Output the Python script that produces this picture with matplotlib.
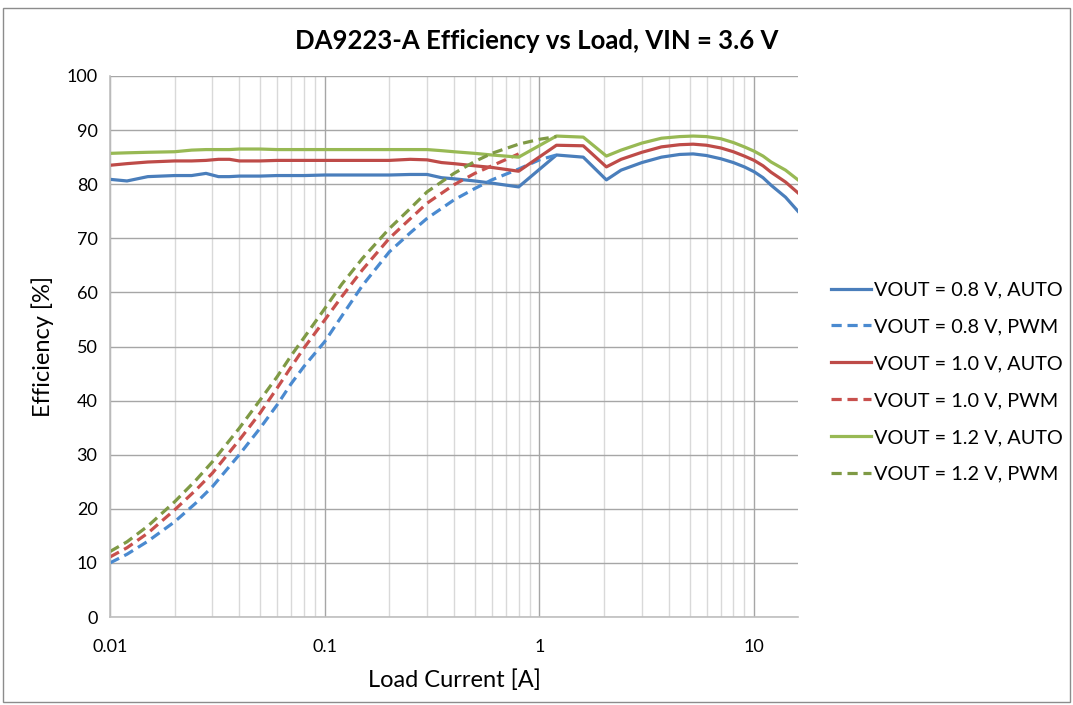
import matplotlib
matplotlib.use("Agg")
import matplotlib.pyplot as plt
from matplotlib.patches import Rectangle

plt.rcParams['font.family'] = ['Lato', 'DejaVu Sans']

# Load current [A] for the AUTO curves
i_auto = [0.01, 0.012, 0.015, 0.02, 0.024, 0.028, 0.032, 0.036, 0.04, 0.05, 0.06,
          0.08, 0.1, 0.15, 0.2, 0.25, 0.3, 0.35, 0.4, 0.5, 0.6, 0.8, 1.2, 1.6,
          2.05, 2.4, 3.0, 3.7, 4.5, 5.2, 6.0, 7.0, 8.0, 9.0, 10, 11, 12, 14, 16]

eff_08_auto = [80.9, 80.6, 81.4, 81.6, 81.6, 82.0, 81.4, 81.4, 81.5, 81.5, 81.6,
               81.6, 81.7, 81.7, 81.7, 81.8, 81.8, 81.2, 81.0, 80.6, 80.2, 79.5, 85.4, 85.0,
               80.8, 82.6, 84.0, 85.0, 85.5, 85.6, 85.3, 84.7, 84.0, 83.2, 82.3, 81.2, 79.8, 77.6, 75.0]
eff_10_auto = [83.5, 83.8, 84.1, 84.3, 84.3, 84.4, 84.6, 84.6, 84.3, 84.3, 84.4,
               84.4, 84.4, 84.4, 84.4, 84.6, 84.5, 84.0, 83.8, 83.4, 83.1, 82.4, 87.2, 87.1,
               83.2, 84.6, 85.9, 86.9, 87.3, 87.4, 87.2, 86.7, 86.0, 85.2, 84.4, 83.4, 82.2, 80.4, 78.4]
eff_12_auto = [85.7, 85.8, 85.9, 86.0, 86.3, 86.4, 86.4, 86.4, 86.5, 86.5, 86.4,
               86.4, 86.4, 86.4, 86.4, 86.4, 86.4, 86.2, 86.0, 85.7, 85.4, 85.0, 88.9, 88.7,
               85.2, 86.3, 87.6, 88.5, 88.8, 88.9, 88.8, 88.4, 87.7, 86.9, 86.1, 85.2, 84.1, 82.6, 80.8]

# Load current [A] for the PWM curves
i_pwm = [0.01, 0.012, 0.015, 0.02, 0.025, 0.03, 0.04, 0.05, 0.06, 0.07, 0.08,
         0.1, 0.12, 0.15, 0.2, 0.25, 0.3, 0.4, 0.5, 0.6, 0.8, 1.0, 1.2]

eff_08_pwm = [10.0, 11.6, 14.0, 17.6, 21.0, 24.1, 30.0, 34.9, 39.2, 43.2, 46.3,
              50.9, 55.6, 61.3, 67.5, 71.0, 73.7, 77.1, 79.2, 80.8, 82.8, 84.5, 85.4]
eff_10_pwm = [11.1, 12.8, 15.5, 19.8, 23.4, 26.6, 32.7, 37.7, 42.3, 46.3, 49.7,
              54.9, 59.2, 64.2, 70.0, 73.6, 76.5, 79.9, 82.0, 83.4, 85.6]
eff_12_pwm = [12.1, 13.9, 16.8, 21.3, 25.2, 28.7, 34.9, 40.1, 44.4, 48.4, 51.6,
              57.0, 61.5, 66.3, 71.8, 75.5, 78.6, 82.0, 84.2, 85.7, 87.4, 88.3, 88.8]

blue = '#4a7ebb'
red = '#be4b48'
green = '#98b954'
blue_d = '#4a8ad0'
red_d = '#c8504d'
green_d = '#7f9a45'

fig = plt.figure(figsize=(10.73, 7.05), dpi=100)
ax = fig.add_axes([0.1025, 0.1248, 0.6412, 0.7674])

lw = 2.3
dash = (3.2, 1.8)
ax.plot(i_auto, eff_08_auto, color=blue, lw=lw, label='VOUT = 0.8 V, AUTO')
ax.plot(i_pwm, eff_08_pwm, color=blue_d, lw=lw, dashes=dash, label='VOUT = 0.8 V, PWM')
ax.plot(i_auto, eff_10_auto, color=red, lw=lw, label='VOUT = 1.0 V, AUTO')
ax.plot(i_pwm[:len(eff_10_pwm)], eff_10_pwm, color=red_d, lw=lw, dashes=dash,
        label='VOUT = 1.0 V, PWM')
ax.plot(i_auto, eff_12_auto, color=green, lw=lw, label='VOUT = 1.2 V, AUTO')
ax.plot(i_pwm, eff_12_pwm, color=green_d, lw=lw, dashes=dash, label='VOUT = 1.2 V, PWM')

ax.set_xscale('log')
ax.set_xlim(0.01, 16)
ax.set_ylim(0, 100)
ax.set_yticks(range(0, 101, 10))
ax.set_xticks([0.01, 0.1, 1, 10])
ax.set_xticklabels(['0.01', '0.1', '1', '10'])

ax.grid(which='major', axis='both', color='#a6a6a6', lw=1.0)
ax.grid(which='minor', axis='x', color='#d9d9d9', lw=1.0)
ax.set_axisbelow(True)
ax.tick_params(which='both', length=0, labelsize=13, colors='black')
ax.tick_params(axis='x', pad=16)
ax.tick_params(axis='y', pad=9)

for s in ['top', 'right']:
    ax.spines[s].set_visible(False)
for s in ['left', 'bottom']:
    ax.spines[s].set_color('#bfbfbf')
    ax.spines[s].set_linewidth(1.2)

ax.set_xlabel('Load Current [A]', fontsize=17, labelpad=10)
ax.set_ylabel('Efficiency [%]', fontsize=17, labelpad=9)
fig.text(0.5, 0.942, 'DA9223-A Efficiency vs Load, VIN = 3.6 V', ha='center',
         va='center', fontsize=18.5, fontweight='bold')

ax.legend(loc='center left', bbox_to_anchor=(1.022, 0.434), frameon=False,
          fontsize=14.3, handlelength=2.0, handletextpad=0.15, labelspacing=1.0)

fig.patches.append(Rectangle((0.003, 0.004), 0.994, 0.985, transform=fig.transFigure,
                             fill=False, edgecolor='#8c8c8c', lw=1.0))

fig.savefig('out.png', dpi=100)
